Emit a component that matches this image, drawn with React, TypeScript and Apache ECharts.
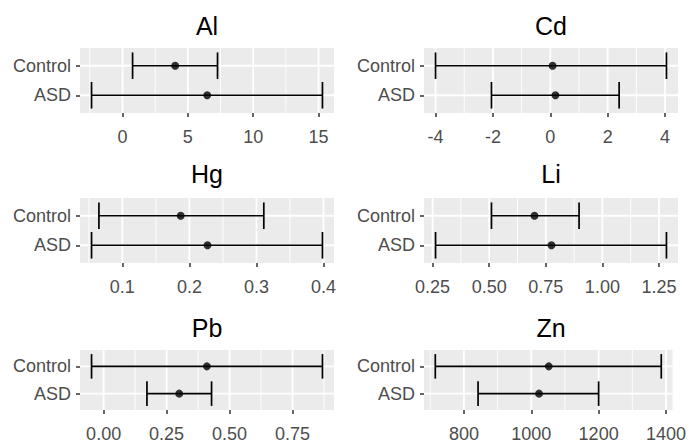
import React, { useEffect, useRef } from 'react';
import * as echarts from 'echarts';

const elements = ['Al', 'Cd', 'Hg', 'Li', 'Pb', 'Zn'];
const groups = ['ASD', 'Control'];
const asdLower = [-2.37, -2.05, 0.054, 0.263, 0.172, 842];
const asdMean = [6.48, 0.18, 0.227, 0.775, 0.3, 1023];
const asdUpper = [15.3, 2.4, 0.3985, 1.283, 0.4286, 1200];
const controlLower = [0.77, -4.0, 0.065, 0.51, -0.048, 715];
const controlMean = [4.03, 0.08, 0.187, 0.7, 0.41, 1052];
const controlUpper = [7.27, 4.05, 0.311, 0.897, 0.869, 1386];
const tickValues = [
  [0, 5, 10, 15],
  [-4, -2, 0, 2, 4],
  [0.1, 0.2, 0.3, 0.4],
  [0.25, 0.5, 0.75, 1, 1.25],
  [0, 0.25, 0.5, 0.75],
  [800, 1000, 1200, 1400],
];
const tickIntervals = [5, 2, 0.1, 0.25, 0.25, 200];
const tickDecimals = [0, 0, 1, 2, 2, 0];

const FONT = '"Liberation Sans", Arial, sans-serif';
const colLefts = [80, 424];
const rowTops = [48, 198, 350];
const titleYs = [25.5, 174, 328];
const PANEL_W = 254;
const PANEL_H = 65;

function buildOption() {
  const grid: any[] = [];
  const xAxis: any[] = [];
  const yAxis: any[] = [];
  const series: any[] = [];
  const graphic: any[] = [];
  elements.forEach((el, i) => {
    const col = i % 2;
    const row = Math.floor(i / 2);
    const left = colLefts[col];
    const top = rowTops[row];
    grid.push({
      left,
      top,
      width: PANEL_W,
      height: PANEL_H,
      show: true,
      backgroundColor: '#EBEBEB',
      borderWidth: 0,
    });
    const lo = Math.min(asdLower[i], controlLower[i]);
    const hi = Math.max(asdUpper[i], controlUpper[i]);
    const pad = (hi - lo) * 0.05;
    const xMin = lo - pad;
    const xMax = hi + pad;
    const ticks = tickValues[i];
    const step = tickIntervals[i];
    const dec = tickDecimals[i];
    const minors: number[] = [];
    for (let k = -1; k < ticks.length; k++) {
      const m = ticks[0] + (k + 0.5) * step;
      if (m > xMin && m < xMax) minors.push(m);
    }
    xAxis.push({
      type: 'value',
      gridIndex: i,
      min: xMin,
      max: xMax,
      axisLine: { show: false, onZero: false },
      axisTick: {
        show: true,
        length: 4,
        customValues: ticks,
        lineStyle: { color: '#333333', width: 1.5 },
      },
      axisLabel: {
        customValues: ticks,
        formatter: (v: number) => Number(v).toFixed(dec),
        color: '#4D4D4D',
        fontSize: 18,
        fontFamily: FONT,
        margin: 15,
      },
      splitLine: { show: false },
      minorSplitLine: { show: false },
    });
    yAxis.push({
      type: 'value',
      gridIndex: i,
      min: 0.4,
      max: 2.6,
      axisLine: { show: false, onZero: false },
      axisTick: {
        show: true,
        length: 4,
        customValues: [1, 2],
        lineStyle: { color: '#333333', width: 1.5 },
      },
      axisLabel: {
        customValues: [1, 2],
        formatter: (v: number) => {
          const k = Math.round(v) - 1;
          return Math.abs(v - Math.round(v)) < 1e-6 && groups[k] ? groups[k] : '';
        },
        color: '#4D4D4D',
        fontSize: 18,
        fontFamily: FONT,
        margin: 9,
      },
      splitLine: { show: false },
    });
    series.push({
      type: 'custom',
      xAxisIndex: i,
      yAxisIndex: i,
      encode: { x: [0, 1], y: 2 },
      data: [
        [asdLower[i], asdUpper[i], 1],
        [controlLower[i], controlUpper[i], 2],
      ],
      renderItem: (params: any, api: any) => {
        const y = api.value(2);
        const p0 = api.coord([api.value(0), y]);
        const p1 = api.coord([api.value(1), y]);
        const half = api.size([0, 0.9])[1] / 2;
        const cs = params.coordSys;
        const stroke = { stroke: '#000000', lineWidth: 1.7 };
        const children: any[] = [];
        if (params.dataIndex === 0) {
          minors.forEach((m) => {
            const px = api.coord([m, y])[0];
            children.push({
              type: 'line',
              shape: { x1: px, y1: cs.y, x2: px, y2: cs.y + cs.height },
              style: { stroke: '#FFFFFF', lineWidth: 0.9 },
            });
          });
          ticks.forEach((t) => {
            const px = api.coord([t, y])[0];
            children.push({
              type: 'line',
              shape: { x1: px, y1: cs.y, x2: px, y2: cs.y + cs.height },
              style: { stroke: '#FFFFFF', lineWidth: 1.8 },
            });
          });
        }
        children.push(
          {
            type: 'line',
            shape: { x1: cs.x, y1: p0[1], x2: cs.x + cs.width, y2: p0[1] },
            style: { stroke: '#FFFFFF', lineWidth: 1.8 },
          },
          { type: 'line', shape: { x1: p0[0], y1: p0[1], x2: p1[0], y2: p1[1] }, style: stroke },
          { type: 'line', shape: { x1: p0[0], y1: p0[1] - half, x2: p0[0], y2: p0[1] + half }, style: stroke },
          { type: 'line', shape: { x1: p1[0], y1: p1[1] - half, x2: p1[0], y2: p1[1] + half }, style: stroke }
        );
        return { type: 'group', children };
      },
    });
    series.push({
      type: 'scatter',
      xAxisIndex: i,
      yAxisIndex: i,
      symbol: 'circle',
      symbolSize: 8,
      itemStyle: { color: '#000000' },
      data: [
        [asdMean[i], 1],
        [controlMean[i], 2],
      ],
    });
    graphic.push({
      type: 'text',
      x: left + PANEL_W / 2,
      y: titleYs[row],
      style: {
        text: el,
        fill: '#000000',
        fontSize: 25,
        fontFamily: FONT,
        align: 'center',
        verticalAlign: 'middle',
      },
    });
  });
  return {
    animation: false,
    backgroundColor: '#FFFFFF',
    grid,
    xAxis,
    yAxis,
    series,
    graphic,
  };
}

export default function App() {
  const ref = useRef<HTMLDivElement>(null);
  useEffect(() => {
    if (!ref.current) return;
    const chart = echarts.init(ref.current, undefined, { renderer: 'svg' });
    chart.setOption(buildOption() as any);
    return () => chart.dispose();
  }, []);
  return (
    <div
      ref={ref}
      style={{ position: 'absolute', left: 0, top: 0, width: 689, height: 443 }}
    />
  );
}
